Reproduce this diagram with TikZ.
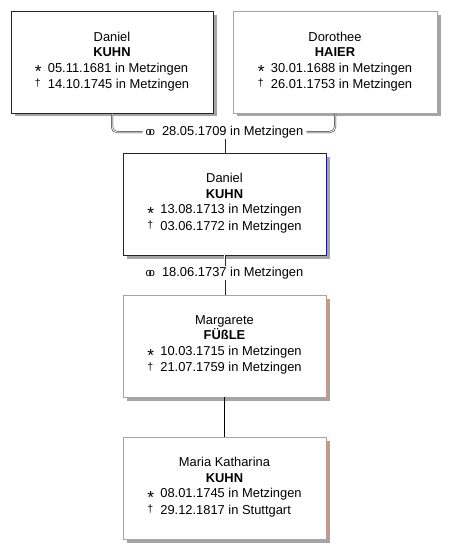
\documentclass[tikz,border=0pt]{standalone}
\usepackage{fontspec}
\usepackage{graphicx}
\setmainfont{Liberation Sans}
\definecolor{mblue}{RGB}{24,24,140}
\definecolor{forange}{RGB}{218,146,116}
\definecolor{shadowgray}{RGB}{165,165,165}
\newcommand{\bsym}{\makebox[13pt][l]{\raisebox{-0.45em}{\scalebox{1.35}{*}}}}
\newcommand{\dsym}{\makebox[13pt][l]{\raisebox{0.15em}{\fontsize{10.5}{10.5}\selectfont †}}}
\newcommand{\msym}{{\fontsize{11}{11}\selectfont o\kern-3pt o}}
\newcommand{\lifedates}[2]{\begin{tabular}[t]{@{}l@{}}\bsym#1\\\dsym#2\end{tabular}}
\begin{document}
\begin{tikzpicture}[x=1pt,y=-1pt,
  person/.style={draw, line width=0.8pt, minimum width=203pt, minimum height=102pt,
    inner sep=0pt, outer sep=0pt, align=center, fill=white,
    font=\fontsize{12.9}{15.5}\selectfont},
  male/.style={person, draw=mblue},
  female/.style={person, draw=forange},
  shadowbox/.style={fill=shadowgray},
  marr/.style={draw=black!85, double=white, double distance=1pt, line width=0.5pt},
  child/.style={draw=black, line width=0.8pt},
  mtext/.style={fill=white, inner xsep=3pt, inner ysep=1pt, font=\fontsize{12.9}{15.5}\selectfont}]
\useasboundingbox (0,0) rectangle (456,558);
\fill[white] (0,0) rectangle (456,558);
% shadows
\fill[shadowbox] (14.5,15) rectangle (216.5,116);
\fill[shadowbox] (236.5,15) rectangle (440.5,116);
\foreach \yy in {204,346,488}
  \fill[shadowbox] (126.5,\yy-47.5) rectangle (329.5,\yy+54.5);
\node[male, minimum width=202pt] (dk) at (112,62.5) {Daniel\\\textbf{KUHN}\\\lifedates{05.11.1681 in Metzingen}{14.10.1745 in Metzingen}};
\node[female, minimum width=204pt] (dh) at (335,62.5) {Dorothee\\\textbf{HAIER}\\\lifedates{30.01.1688 in Metzingen}{26.01.1753 in Metzingen}};
\node[male] (dk2) at (224.5,204) {Daniel\\\textbf{KUHN}\\\lifedates{13.08.1713 in Metzingen}{03.06.1772 in Metzingen}};
\node[female] (mf) at (224.5,346) {Margarete\\\textbf{FÜßLE}\\\lifedates{10.03.1715 in Metzingen}{21.07.1759 in Metzingen}};
\node[female] (mk) at (224.5,488) {Maria Katharina\\\textbf{KUHN}\\\lifedates{08.01.1745 in Metzingen}{29.12.1817 in Stuttgart}};
\node[mtext] (m1) at (224.5,132) {\msym\ \ 28.05.1709 in Metzingen};
\node[mtext] (m2) at (224.5,273) {\msym\ \ 18.06.1737 in Metzingen};
\draw[marr, rounded corners=5pt] (dk.south) |- (m1.west);
\draw[marr, rounded corners=5pt] (m1.east) -| (dh.south);
\draw[marr] (m1.south) -- (dk2.north);
\draw[marr] (dk2.south) -- (m2.north);
\draw[marr] (m2.south) -- (mf.north);
\draw[child] (mf.south) -- (mk.north);
\end{tikzpicture}
\end{document}
